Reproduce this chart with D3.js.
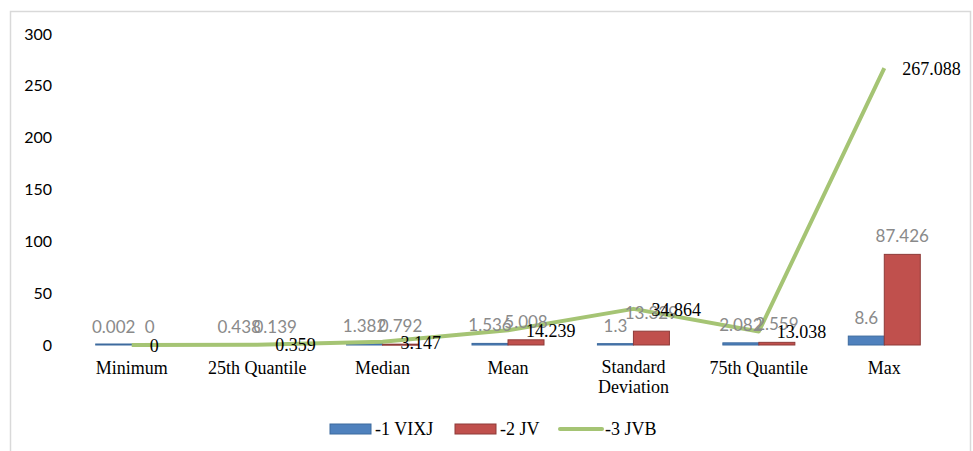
<!DOCTYPE html>
<html>
<head>
<meta charset="utf-8">
<script src="https://cdn.jsdelivr.net/npm/d3@7"></script>
<style>
html,body{margin:0;padding:0;background:#fff;}
svg{display:block;}
</style>
</head>
<body>
<svg id="chart" width="973" height="451"></svg>
<script>
const categories = ["Minimum", "25th Quantile", "Median", "Mean", "Standard Deviation", "75th Quantile", "Max"];
const seriesNames = ["-1 VIXJ", "-2 JV", "-3 JVB"];
const vixj = [0.002, 0.438, 1.382, 1.536, 1.3, 2.082, 8.6];
const jv = [0, 0.139, 0.792, 5.008, 13.329, 2.559, 87.426];
const jvb = [0, 0.359, 3.147, 14.239, 34.864, 13.038, 267.088];
const yTicks = [0, 50, 100, 150, 200, 250, 300];

const svg = d3.select("#chart");
const serif = "'Liberation Serif', 'Times New Roman', serif";
const sans = "Lato, 'Open Sans', sans-serif";
const blue = "#4f81bd", blueStroke = "#3d6a9e";
const red = "#c0504d", redStroke = "#8e3b39";
const green = "#a5c474";

// outer border
svg.append("path").attr("d", "M10.5,460 V11.5 H970.5 V460")
  .attr("fill", "none").attr("stroke", "#d9d9d9").attr("stroke-width", 1.5);

const x = d3.scaleBand().domain(categories).range([69, 947]).paddingInner(0).paddingOuter(0);
const y = d3.scaleLinear().domain([0, 300]).range([345, 34]);
const cx = c => x(c) + x.bandwidth() / 2;
const barW = 36;

// y axis
const yAxis = d3.axisLeft(y).tickValues(yTicks).tickSize(0).tickPadding(0);
const yg = svg.append("g").attr("transform", "translate(52,0)").call(yAxis);
yg.select(".domain").remove();
yg.selectAll("text").attr("font-family", sans).attr("font-size", 16).attr("fill", "#000");

// bars
const gBars = svg.append("g");
gBars.selectAll("rect.b").data(categories).join("rect").attr("class", "b")
  .attr("x", c => cx(c) - barW).attr("width", barW)
  .attr("y", (c, i) => Math.min(y(vixj[i]), 344)).attr("height", (c, i) => Math.max(345 - y(vixj[i]), 1))
  .attr("fill", blue).attr("stroke", blueStroke).attr("stroke-width", 1);
gBars.selectAll("rect.r").data(categories).join("rect").attr("class", "r")
  .attr("x", c => cx(c)).attr("width", barW)
  .attr("y", (c, i) => Math.min(y(jv[i]), 344.5)).attr("height", (c, i) => Math.max(345 - y(jv[i]), jv[i] > 0 ? 1 : 0))
  .attr("fill", red).attr("stroke", redStroke).attr("stroke-width", 1);

// line
const line = d3.line().x((d, i) => cx(categories[i])).y(d => y(d));
svg.append("path").datum(jvb).attr("d", line)
  .attr("fill", "none").attr("stroke", green).attr("stroke-width", 4).attr("stroke-linejoin", "round");

// bar labels
const lab = svg.append("g").attr("font-family", sans).attr("font-size", 17).attr("fill", "#8a8a8a").attr("text-anchor", "middle");
lab.selectAll("text.lb").data(categories).join("text").attr("class", "lb")
  .attr("x", c => cx(c) - barW / 2).attr("y", (c, i) => y(vixj[i]) - 12).text((c, i) => vixj[i]);
lab.selectAll("text.lr").data(categories).join("text").attr("class", "lr")
  .attr("x", c => cx(c) + barW / 2).attr("y", (c, i) => y(jv[i]) - 12).text((c, i) => jv[i]);

// line labels
svg.append("g").attr("font-family", serif).attr("font-size", 18).attr("fill", "#000")
  .selectAll("text").data(categories).join("text")
  .attr("x", c => cx(c) + 18).attr("y", (c, i) => y(jvb[i])).attr("dy", "0.38em")
  .text((c, i) => jvb[i]);

// category labels with wrap
const catG = svg.append("g").attr("font-family", serif).attr("font-size", 18).attr("fill", "#000").attr("text-anchor", "middle");
categories.forEach(c => {
  const t = catG.append("text").attr("x", cx(c)).attr("y", 374).text(c);
  if (t.node().getComputedTextLength() > x.bandwidth() - 4) {
    const words = c.split(" ");
    t.text(null);
    words.forEach((w, k) => t.append("tspan").attr("x", cx(c)).attr("y", 373 + k * 19.5).text(w));
  }
});

// legend
const lg = svg.append("g").attr("font-family", serif).attr("font-size", 18).attr("fill", "#000");
const legX = [330, 455, 560];
lg.append("rect").attr("x", legX[0]).attr("y", 424).attr("width", 41).attr("height", 10).attr("fill", blue).attr("stroke", blueStroke);
lg.append("rect").attr("x", legX[1]).attr("y", 424).attr("width", 41).attr("height", 10).attr("fill", red).attr("stroke", redStroke);
lg.append("line").attr("x1", legX[2]).attr("x2", legX[2] + 42).attr("y1", 429).attr("y2", 429).attr("stroke", green).attr("stroke-width", 4).attr("stroke-linecap", "round");
seriesNames.forEach((n, i) => {
  lg.append("text").attr("x", legX[i] + 45).attr("y", 429).attr("dy", "0.35em").text(n);
});
</script>
</body>
</html>
